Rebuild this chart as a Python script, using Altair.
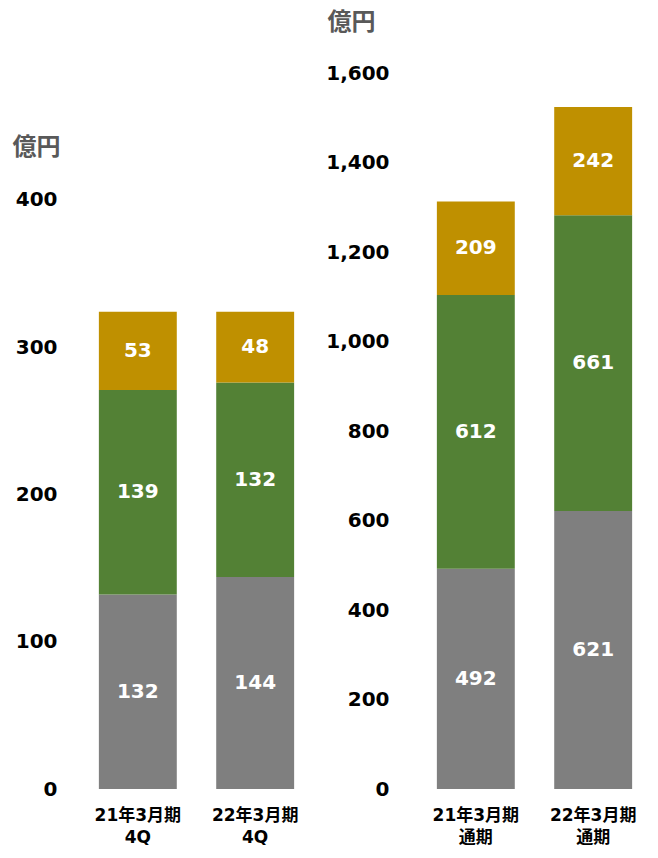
import altair as alt
import pandas as pd

# ---- data ----
left_periods = ["21年3月期|4Q", "22年3月期|4Q"]
right_periods = ["21年3月期|通期", "22年3月期|通期"]
segments = ["s1", "s2", "s3"]  # bottom -> top
left_s1 = [132, 144]
left_s2 = [139, 132]
left_s3 = [53, 48]
right_s1 = [492, 621]
right_s2 = [612, 661]
right_s3 = [209, 242]
left_ticks = [0, 100, 200, 300, 400]
right_ticks = [0, 200, 400, 600, 800, 1000, 1200, 1400, 1600]
seg_colors = ["#7F7F7F", "#538135", "#BF9000"]
unit_title = "億円"

FONT = "DejaVu Sans, Noto Sans CJK JP"


def make_df(periods, s1, s2, s3):
    rows = []
    for i, p in enumerate(periods):
        for k, (seg, vals) in enumerate(zip(segments, [s1, s2, s3])):
            rows.append({"period": p, "segment": seg, "order": k, "value": vals[i]})
    return pd.DataFrame(rows)


def panel(df, periods, ymax, ticks, label_pad, title_x, title_y, width, height):
    xaxis = alt.Axis(
        title=None,
        labelExpr="split(datum.value, '|')",
        labelAngle=0,
        labelFont=FONT,
        labelFontSize=17,
        labelFontWeight="bold",
        labelColor="black",
        labelLineHeight=22,
        labelPadding=18,
        labelBaseline="top",
        domain=False,
        ticks=False,
    )
    xscale = alt.Scale(paddingInner=0.336, paddingOuter=0.05)
    yaxis = alt.Axis(
        values=ticks,
        format=",d",
        title=unit_title,
        titleAngle=0,
        titleX=title_x,
        titleY=title_y,
        titleAlign="left",
        titleBaseline="middle",
        titleFont=FONT,
        titleFontSize=24,
        titleFontWeight="bold",
        titleColor="#595959",
        grid=False,
        domain=False,
        ticks=False,
        labelPadding=label_pad,
        labelFont=FONT,
        labelFontSize=20,
        labelFontWeight="bold",
        labelColor="black",
    )
    yscale = alt.Scale(domain=[0, ymax], nice=False, zero=True)
    bars = alt.Chart(df).mark_bar().encode(
        x=alt.X("period:N", sort=periods, scale=xscale, axis=xaxis),
        y=alt.Y("value:Q", stack="zero", scale=yscale, axis=yaxis, title=unit_title),
        color=alt.Color(
            "segment:N",
            scale=alt.Scale(domain=segments, range=seg_colors),
            legend=None,
        ),
        order=alt.Order("order:Q"),
    )
    text = (
        alt.Chart(df)
        .transform_stack(
            stack="value",
            groupby=["period"],
            as_=["y0", "y1"],
            sort=[alt.SortField("order", order="ascending")],
        )
        .transform_calculate(mid="(datum.y0 + datum.y1) / 2")
        .mark_text(color="white", fontWeight="bold", fontSize=20, font=FONT, baseline="middle")
        .encode(
            x=alt.X("period:N", sort=periods, scale=xscale, axis=xaxis),
            y=alt.Y("mid:Q", scale=yscale, axis=yaxis, title=unit_title),
            text=alt.Text("value:Q"),
        )
    )
    return alt.layer(bars, text).properties(width=width, height=height)


PLOT_H = 716
left = panel(
    make_df(left_periods, left_s1, left_s2, left_s3),
    left_periods, 486.2, left_ticks, 36, -81, 74, 207, PLOT_H,
)
right = panel(
    make_df(right_periods, right_s1, right_s2, right_s3),
    right_periods, 1600, right_ticks, 42, -104, -51, 207, PLOT_H,
)

chart = (
    alt.hconcat(left, right, spacing=25)
    .properties(padding={"left": 4, "top": 2, "right": 0, "bottom": 0})
    .configure_view(stroke=None)
)

chart.save("out.html", embed_options={"renderer": "svg", "actions": False})
